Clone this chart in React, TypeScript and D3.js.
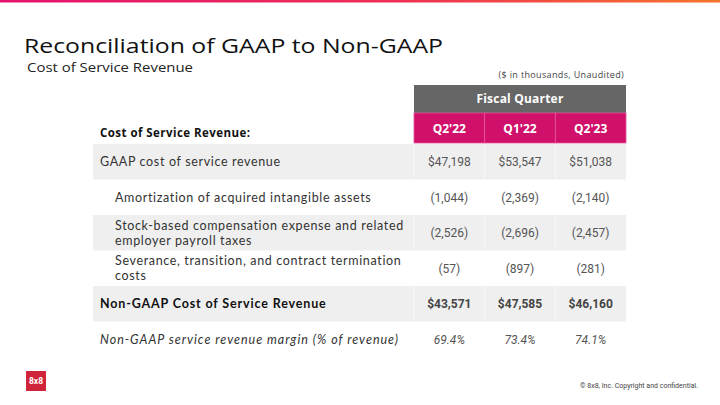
import React from "react";
import * as d3 from "d3";

const quarters = ["Q2'22", "Q1'22", "Q2'23"];
const rowLabels: string[][] = [
  ["GAAP cost of service revenue"],
  ["Amortization of acquired intangible assets"],
  ["Stock-based compensation expense and related", "employer payroll taxes"],
  ["Severance, transition, and contract termination", "costs"],
  ["Non-GAAP Cost of Service Revenue"],
  ["Non-GAAP service revenue margin (% of revenue)"],
];
const rowKinds = ["main", "sub", "sub", "sub", "total", "margin"];
const colQ222 = ["$47,198", "(1,044)", "(2,526)", "(57)", "$43,571", "69.4%"];
const colQ122 = ["$53,547", "(2,369)", "(2,696)", "(897)", "$47,585", "73.4%"];
const colQ223 = ["$51,038", "(2,140)", "(2,457)", "(281)", "$46,160", "74.1%"];
const columns = [colQ222, colQ122, colQ223];

const W = 720;
const H = 405;
const LABEL_FONT = "'Open Sans', 'Noto Sans', sans-serif";
const ROW_FONT = "Lato, 'Open Sans', sans-serif";
const NUM_FONT = "Roboto, 'Noto Sans', sans-serif";

export default function App() {
  const x = d3.scaleBand<string>().domain(quarters).range([414, 626]);
  const rowIdx = rowLabels.map((_, i) => String(i));
  const y = d3.scaleBand<string>().domain(rowIdx).range([144, 357]);
  const tableLeft = 93;
  const tableRight = 626;

  return (
    <svg
      width={W}
      height={H}
      viewBox={`0 0 ${W} ${H}`}
      style={{ position: "absolute", left: 0, top: 0, background: "#fff" }}
    >
      <defs>
        <linearGradient id="topbar" x1="0" x2="1" y1="0" y2="0">
          <stop offset="0%" stopColor="#e3136f" />
          <stop offset="55%" stopColor="#ee2f55" />
          <stop offset="100%" stopColor="#f5742a" />
        </linearGradient>
      </defs>
      <rect x={0} y={0} width={W} height={2.5} fill="url(#topbar)" />

      <text x={24} y={52.5} fontFamily={LABEL_FONT} fontSize={20.5} fontWeight={500} fill="#111" textLength={419} lengthAdjust="spacingAndGlyphs">
        Reconciliation of GAAP to Non-GAAP
      </text>
      <text x={27} y={72} fontFamily={LABEL_FONT} fontSize={12.5} fill="#222" textLength={166} lengthAdjust="spacingAndGlyphs">
        Cost of Service Revenue
      </text>
      <text x={624} y={77.5} textAnchor="end" fontFamily={LABEL_FONT} fontSize={9} letterSpacing={0.35} fill="#444">
        ($ in thousands, Unaudited)
      </text>

      {/* header */}
      <rect x={414} y={85} width={212} height={28} fill="#666666" />
      <text x={520} y={103} textAnchor="middle" fontFamily={LABEL_FONT} fontSize={12} fontWeight={700} letterSpacing={0.2} fill="#fff">
        Fiscal Quarter
      </text>
      {quarters.map((q) => (
        <g key={q}>
          <rect x={x(q)!} y={113} width={x.bandwidth()} height={30} fill="#d0106a" stroke="#e4569a" strokeWidth={0.8} />
          <text x={x(q)! + x.bandwidth() / 2} y={132.5} textAnchor="middle" fontFamily={LABEL_FONT} fontSize={12} fontWeight={700} fill="#fff">
            {q}
          </text>
        </g>
      ))}
      <text x={100} y={137} fontFamily={LABEL_FONT} fontSize={11.5} fontWeight={700} letterSpacing={0.45} fill="#111">
        Cost of Service Revenue:
      </text>

      {/* rows */}
      {rowIdx.map((r, i) => {
        const y0 = y(r)!;
        const h = y.bandwidth();
        const kind = rowKinds[i];
        const shaded = i % 2 === 0;
        const labelX = kind === "sub" ? 115 : 100;
        const lines = rowLabels[i];
        const cy = y0 + h / 2;
        const bold = kind === "total";
        const italic = kind === "margin";
        const ls = bold ? 0.85 : italic ? 0.98 : 0.65;
        const lineGap = 15.1;
        return (
          <g key={r}>
            {shaded && <rect x={tableLeft} y={y0} width={tableRight - tableLeft} height={h} fill="#efefef" />}
            {shaded &&
              quarters.map((q) => (
                <line key={q} x1={x(q)!} x2={x(q)!} y1={y0} y2={y0 + h} stroke="#f8f8f8" strokeWidth={1} />
              ))}
            <text
              x={labelX}
              y={cy + 4.6 - ((lines.length - 1) / 2) * lineGap}
              fontFamily={ROW_FONT}
              fontSize={12.5}
              fontWeight={bold ? 700 : 400}
              fontStyle={italic ? "italic" : "normal"}
              letterSpacing={ls}
              fill={bold ? "#111" : "#333"}
            >
              {lines.map((ln, li) => (
                <tspan key={li} x={labelX} dy={li === 0 ? 0 : lineGap}>
                  {ln}
                </tspan>
              ))}
            </text>
            {quarters.map((q, ci) => (
              <text
                key={q}
                x={x(q)! + x.bandwidth() / 2}
                y={cy + 4.5}
                textAnchor="middle"
                fontFamily={NUM_FONT}
                fontSize={12}
                fontWeight={bold ? 700 : 400}
                fontStyle={italic ? "italic" : "normal"}
                fill={bold ? "#444" : "#555"}
              >
                {columns[ci][i]}
              </text>
            ))}
          </g>
        );
      })}

      {/* footer */}
      <rect x={26} y={371} width={20} height={20} fill="#d0243a" />
      <text x={36} y={384} textAnchor="middle" fontFamily={NUM_FONT} fontSize={8.5} fontWeight={700} fill="#fff">
        8x8
      </text>
      <text x={698} y={388} textAnchor="end" fontFamily={NUM_FONT} fontSize={7} fill="#444">
        © 8x8, Inc. Copyright and confidential.
      </text>
    </svg>
  );
}
